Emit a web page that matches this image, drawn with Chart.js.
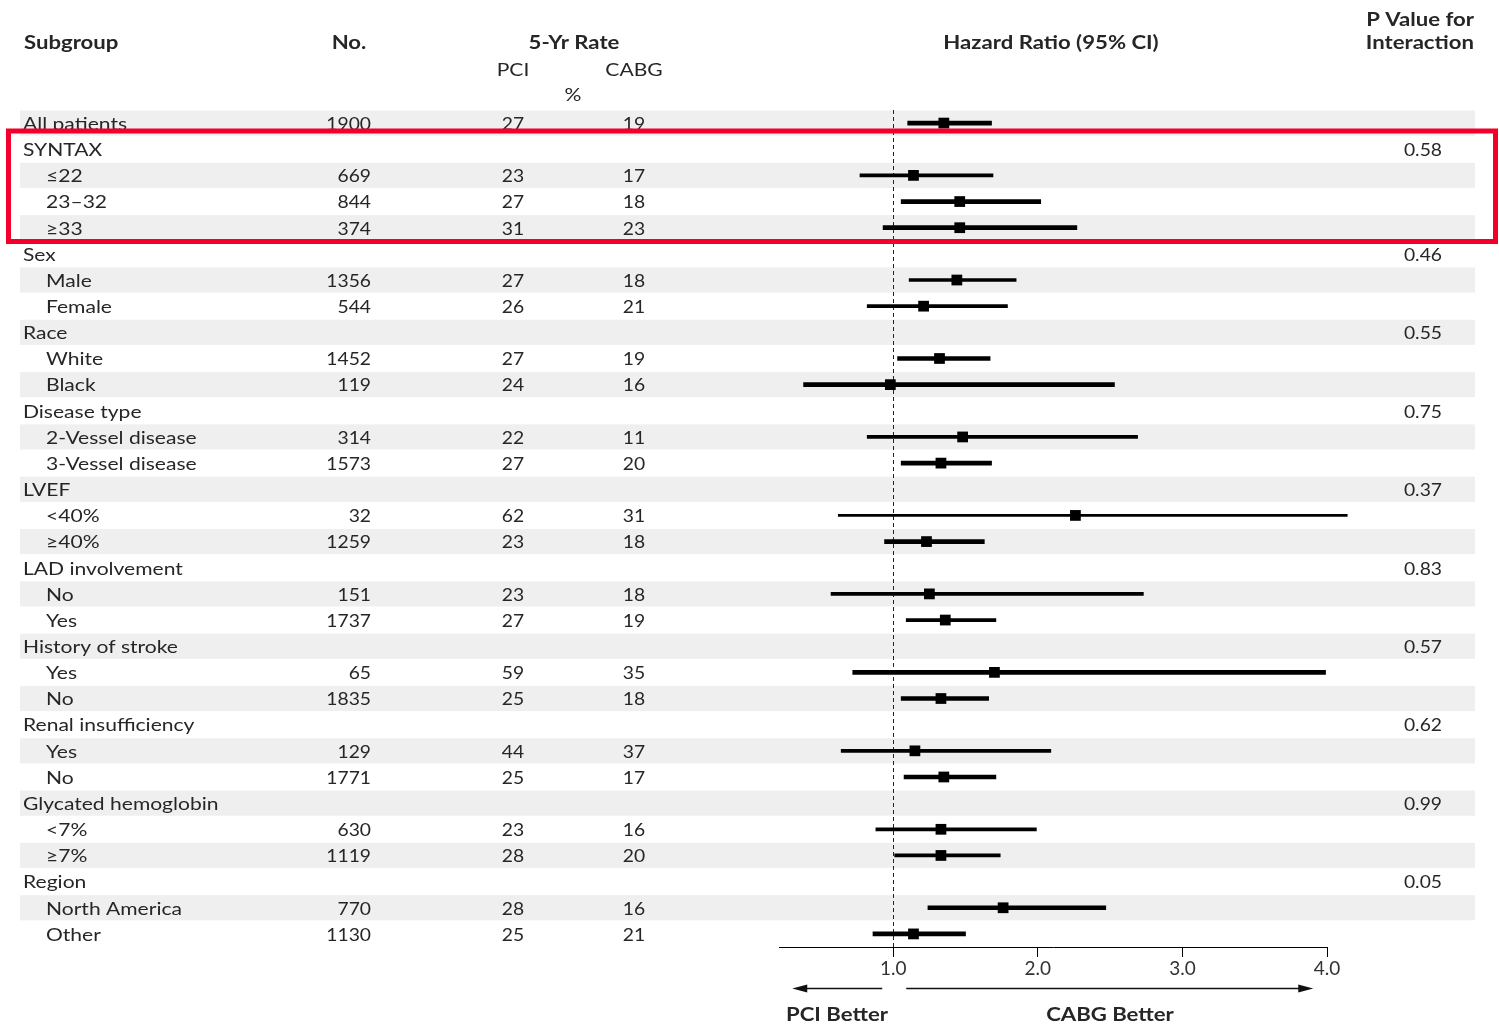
<!DOCTYPE html>
<html><head><meta charset="utf-8">
<script src="https://cdn.jsdelivr.net/npm/chart.js@4/dist/chart.umd.min.js"></script>
<style>html,body{margin:0;padding:0;background:#fff;overflow:hidden}#wrap{width:1499px;height:1031px}</style>
</head><body><div id="wrap"><canvas id="c" width="1499" height="1031"></canvas></div>
<script>
// ---------- DATA ----------
const subgroups = ['All patients','SYNTAX','≤22','23–32','≥33','Sex','Male','Female','Race','White','Black','Disease type','2-Vessel disease','3-Vessel disease','LVEF','<40%','≥40%','LAD involvement','No','Yes','History of stroke','Yes','No','Renal insufficiency','Yes','No','Glycated hemoglobin','<7%','≥7%','Region','North America','Other'];
const counts = [1900,null,669,844,374,null,1356,544,null,1452,119,null,314,1573,null,32,1259,null,151,1737,null,65,1835,null,129,1771,null,630,1119,null,770,1130];
const pciRate = [27,null,23,27,31,null,27,26,null,27,24,null,22,27,null,62,23,null,23,27,null,59,25,null,44,25,null,23,28,null,28,25];
const cabgRate = [19,null,17,18,23,null,18,21,null,19,16,null,11,20,null,31,18,null,18,19,null,35,18,null,37,17,null,16,20,null,16,21];
const hazardRatio = [1.35,null,1.14,1.46,1.46,null,1.44,1.21,null,1.32,0.98,null,1.48,1.33,null,2.26,1.23,null,1.25,1.36,null,1.70,1.33,null,1.15,1.35,null,1.33,1.33,null,1.76,1.14];
const ciLow = [1.10,null,0.77,1.055,0.93,null,1.11,0.82,null,1.03,0.38,null,0.82,1.055,null,0.62,0.94,null,0.57,1.09,null,0.72,1.055,null,0.64,1.075,null,0.88,1.01,null,1.24,0.86];
const ciHigh = [1.68,null,1.69,2.02,2.27,null,1.85,1.79,null,1.67,2.53,null,2.69,1.68,null,4.14,1.63,null,2.73,1.71,null,3.99,1.66,null,2.09,1.71,null,1.99,1.74,null,2.47,1.50];
const pInteraction = [null,'0.58',null,null,null,'0.46',null,null,'0.55',null,null,'0.75',null,null,'0.37',null,null,'0.83',null,null,'0.57',null,null,'0.62',null,null,'0.99',null,null,'0.05',null,null];
const xTickValues = [1,2,3,4];
const xTickLabels = ['1.0','2.0','3.0','4.0'];

// ---------- STYLE ----------
const ciStroke = [4,0,3,4,4,0,3,3,0,4,4,0,3,4,0,2,4,0,3,3,0,4,4,0,3,4,0,3,3,0,4,4];
const FONT = 'Lato';
const TXT = '#262626';
const rowFont = `18px ${FONT}`;
const boldFont = `bold 18px ${FONT}`;
const SX_WORD = 1.17, SX_NUM = 1.07, SX_BOLD = 1.23;

function txt(ctx, s, x, y, align, sx) {
  ctx.save();
  ctx.translate(x, y);
  ctx.scale(sx, 1);
  ctx.textAlign = align;
  ctx.fillText(s, 0, 0);
  ctx.restore();
}

const strokeClasses = [2,3,4];
const ciDatasets = strokeClasses.map(w => ({
  type: 'bar',
  data: subgroups.map((_, i) => (ciStroke[i] === w && ciLow[i] != null) ? [ciLow[i], ciHigh[i]] : null),
  backgroundColor: '#000',
  barThickness: w,
  grouped: false,
  clip: false,
  order: 2
}));

const pointDataset = {
  type: 'line',
  data: hazardRatio,
  showLine: false,
  pointStyle: 'rect',
  pointRadius: 7.6,
  pointHoverRadius: 7.6,
  pointBackgroundColor: '#000',
  pointBorderWidth: 0,
  clip: false,
  order: 1
};

const decor = {
  id: 'decor',
  beforeDraw(chart) {
    const {ctx, scales: {y}} = chart;
    ctx.save();
    ctx.fillStyle = '#fff';
    ctx.fillRect(0, 0, chart.width, chart.height);
    const rowH = y.getPixelForValue(1) - y.getPixelForValue(0);
    ctx.fillStyle = '#efefef';
    subgroups.forEach((_, i) => {
      if (i % 2 === 0) {
        const yc = y.getPixelForValue(i);
        ctx.fillRect(20, yc - rowH / 2 + 0.5, 1455, rowH - 1);
      }
    });
    ctx.restore();
  },
  beforeDatasetsDraw(chart) {
    const {ctx, chartArea, scales: {x}} = chart;
    const px = Math.round(x.getPixelForValue(1)) + 0.5;
    ctx.save();
    ctx.strokeStyle = '#222';
    ctx.lineWidth = 1;
    ctx.setLineDash([4, 3]);
    ctx.beginPath();
    ctx.moveTo(px, chartArea.top);
    ctx.lineTo(px, chartArea.bottom);
    ctx.stroke();
    ctx.restore();
  },
  afterDraw(chart) {
    const {ctx, scales: {x, y}} = chart;
    ctx.save();
    ctx.fillStyle = TXT;
    ctx.textBaseline = 'middle';
    // headers
    ctx.font = boldFont;
    txt(ctx, 'Subgroup', 24, 43, 'left', SX_BOLD);
    txt(ctx, 'No.', 349, 43, 'center', SX_BOLD);
    txt(ctx, '5-Yr Rate', 574, 43, 'center', SX_BOLD);
    txt(ctx, 'Hazard Ratio (95% CI)', 1051, 43, 'center', SX_BOLD);
    txt(ctx, 'P Value for', 1474, 20, 'right', SX_BOLD);
    txt(ctx, 'Interaction', 1474, 43, 'right', SX_BOLD);
    ctx.font = rowFont;
    txt(ctx, 'PCI', 513, 70, 'center', SX_WORD);
    txt(ctx, 'CABG', 634, 70, 'center', SX_WORD);
    txt(ctx, '%', 573, 95, 'center', SX_WORD);
    // rows
    subgroups.forEach((label, i) => {
      const yc = y.getPixelForValue(i) + 1;
      const heading = counts[i] == null;
      txt(ctx, label, (heading || i === 0) ? 23 : 46, yc, 'left', SX_WORD);
      if (counts[i] != null) {
        txt(ctx, String(counts[i]), 371, yc, 'right', SX_NUM);
        txt(ctx, String(pciRate[i]), 513, yc, 'center', SX_NUM);
        txt(ctx, String(cabgRate[i]), 634, yc, 'center', SX_NUM);
      }
      if (pInteraction[i] != null) {
        txt(ctx, pInteraction[i], 1442, yc, 'right', SX_NUM);
      }
    });
    // arrows
    const x1 = x.getPixelForValue(1);
    const ay = 988.5;
    ctx.strokeStyle = '#111';
    ctx.fillStyle = '#111';
    ctx.lineWidth = 1.3;
    ctx.beginPath();
    ctx.moveTo(x1 - 11, ay); ctx.lineTo(x1 - 92, ay);
    ctx.moveTo(x1 + 13, ay); ctx.lineTo(x1 + 408, ay);
    ctx.stroke();
    ctx.beginPath();
    ctx.moveTo(x1 - 101, ay); ctx.lineTo(x1 - 86, ay - 4); ctx.lineTo(x1 - 86, ay + 4); ctx.closePath(); ctx.fill();
    ctx.beginPath();
    ctx.moveTo(x1 + 420, ay); ctx.lineTo(x1 + 405, ay - 4); ctx.lineTo(x1 + 405, ay + 4); ctx.closePath(); ctx.fill();
    ctx.font = boldFont;
    ctx.fillStyle = TXT;
    txt(ctx, 'PCI Better', 837, 1015, 'center', SX_BOLD);
    txt(ctx, 'CABG Better', 1110, 1015, 'center', SX_BOLD);
    // highlight box
    ctx.strokeStyle = '#f2002b';
    ctx.lineWidth = 5;
    ctx.setLineDash([]);
    ctx.strokeRect(8.5, 131, 1487, 110.5);
    ctx.restore();
  }
};

new Chart(document.getElementById('c'), {
  type: 'bar',
  data: { labels: subgroups, datasets: [...ciDatasets, pointDataset] },
  options: {
    indexAxis: 'y',
    responsive: false,
    devicePixelRatio: 1,
    animation: false,
    events: [],
    layout: { padding: { left: 779, right: 172, top: 110, bottom: 0 } },
    plugins: { legend: { display: false }, tooltip: { enabled: false } },
    scales: {
      x: {
        type: 'linear',
        position: 'bottom',
        min: 0.21,
        max: 4.0,
        afterBuildTicks: s => { s.ticks = xTickValues.map(v => ({ value: v })); },
        afterFit: s => { s.height = 84; },
        ticks: {
          autoSkip: false, maxRotation: 0, padding: 0,
          color: '#333',
          font: { family: FONT, size: 19 },
          callback: (v) => xTickLabels[xTickValues.indexOf(v)]
        },
        grid: { drawOnChartArea: false, drawTicks: true, tickLength: 10, color: '#000', lineWidth: 1 },
        border: { display: true, color: '#000', width: 1 }
      },
      y: {
        type: 'category',
        display: false,
        offset: true,
        grid: { display: false }
      }
    }
  },
  plugins: [decor]
});
</script>
</body></html>
